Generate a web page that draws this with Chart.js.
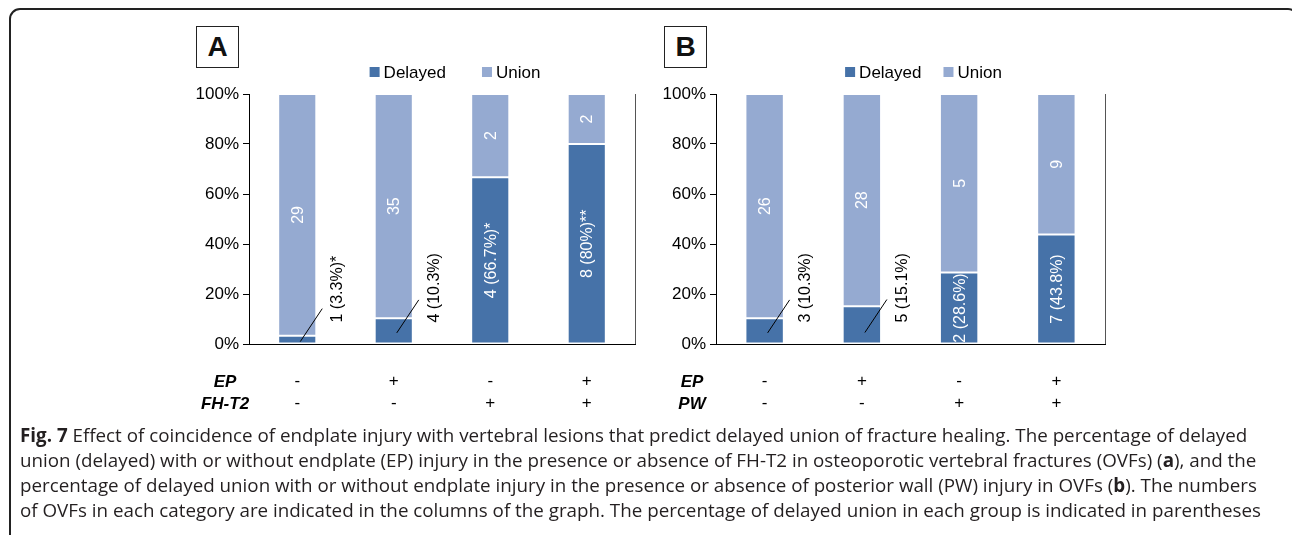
<!DOCTYPE html>
<html>
<head>
<meta charset="utf-8">
<script src="https://cdn.jsdelivr.net/npm/chart.js@4.4.1/dist/chart.umd.min.js"></script>
<style>
body{margin:0;background:#fff;width:1292px;height:535px;overflow:hidden;position:relative;font-family:"Liberation Sans",Arial,sans-serif}
#frame{position:absolute;left:9px;top:8px;width:1290px;height:600px;border:2px solid #222;border-radius:11px;box-sizing:border-box}
.panel{position:absolute;top:26px;width:43px;height:42px;border:1.5px solid #222;box-sizing:border-box;font-weight:bold;font-size:28px;line-height:40px;text-align:center;color:#111}
canvas{position:absolute}
#caption{position:absolute;left:20px;top:423px;width:1262px;font-family:"Open Sans",sans-serif;font-size:18.8px;line-height:25px;color:#231f20;white-space:nowrap}
</style>
</head>
<body>
<div id="frame"></div>
<div class="panel" style="left:196px">A</div>
<div class="panel" style="left:664px">B</div>
<canvas id="chartA" width="500" height="390" style="left:150px;top:40px"></canvas>
<canvas id="chartB" width="470" height="390" style="left:650px;top:40px"></canvas>
<div id="caption"><b>Fig. 7</b> Effect of coincidence of endplate injury with vertebral lesions that predict delayed union of fracture healing. The percentage of delayed<br>union (delayed) with or without endplate (EP) injury in the presence or absence of FH-T2 in osteoporotic vertebral fractures (OVFs) (<b>a</b>), and the<br>percentage of delayed union with or without endplate injury in the presence or absence of posterior wall (PW) injury in OVFs (<b>b</b>). The numbers<br>of OVFs in each category are indicated in the columns of the graph. The percentage of delayed union in each group is indicated in parentheses</div>
<script>
// panel A : endplate injury x FH-T2
var epA = ['-','+','-','+'];
var fhA = ['-','-','+','+'];
var delayedA_n = [1,4,4,8];
var unionA_n = [29,35,2,2];
var delayedA_pct = [3.3,10.3,66.7,80];
var unionA_pct = [96.7,89.7,33.3,20];
var starsA = ['*','','*','**'];

// panel B : endplate injury x posterior wall
var epB = ['-','+','-','+'];
var pwB = ['-','-','+','+'];
var delayedB_n = [3,5,2,7];
var unionB_n = [26,28,5,9];
var delayedB_pct = [10.3,15.1,28.6,43.8];
var unionB_pct = [89.7,84.9,71.4,56.2];
var starsB = ['','','',''];

var colDelayed = '#4672a8';
var colUnion = '#95aad1';
var FONT = '"Liberation Sans", Arial, sans-serif';

const barLabels = {
  id: 'barLabels',
  afterDatasetsDraw(chart) {
    const c = chart.ctx;
    chart.data.datasets.forEach(function(ds, di) {
      chart.getDatasetMeta(di).data.forEach(function(bar, i) {
        var txt = ds.valueLabels[i];
        var top = Math.min(bar.y, bar.base), bot = Math.max(bar.y, bar.base);
        var mid = (top + bot) / 2;
        c.save();
        c.font = '16px ' + FONT;
        c.textBaseline = 'middle';
        if (bot - top > 40) {
          c.translate(bar.x, mid);
          c.rotate(-Math.PI / 2);
          c.fillStyle = '#fff';
          c.textAlign = 'center';
          c.fillText(txt, 0, 1);
        } else {
          // small segment: label outside with a leader line
          var y0 = Math.max(bar.base - 11, mid + 2);
          c.strokeStyle = '#000';
          c.lineWidth = 1;
          c.beginPath();
          c.moveTo(bar.x + 3, y0);
          c.lineTo(bar.x + 25, y0 - 33);
          c.stroke();
          c.translate(bar.x + 39.5, bar.base - 21);
          c.rotate(-Math.PI / 2);
          c.fillStyle = '#000';
          c.textAlign = 'left';
          c.fillText(txt, 0, 1);
        }
        c.restore();
      });
    });
  }
};

const extras = {
  id: 'extras',
  afterDraw(chart, args, o) {
    const c = chart.ctx, a = chart.chartArea;
    c.save();
    // right border of plot area
    c.strokeStyle = '#555';
    c.lineWidth = 1;
    c.beginPath();
    c.moveTo(Math.round(a.right) + 0.5, a.top);
    c.lineTo(Math.round(a.right) + 0.5, a.bottom);
    c.stroke();
    // legend
    c.font = '17px ' + FONT;
    c.textBaseline = 'middle';
    var items = chart.data.datasets.map(function(d) {
      return {t: d.label, col: d.backgroundColor, w: c.measureText(d.label).width};
    });
    var total = items.reduce(function(s, it) { return s + 14 + it.w; }, 0) + o.gap * (items.length - 1);
    var x = (a.left + a.right) / 2 + 13 - total / 2;
    var y = a.top - 22;
    items.forEach(function(it) {
      c.fillStyle = it.col;
      c.fillRect(x, y - 5, 10, 10);
      c.fillStyle = '#000';
      c.fillText(it.t, x + 14, y + 1);
      x += 14 + it.w + o.gap;
    });
    // row names under the axis
    c.font = 'italic bold 17px ' + FONT;
    c.textAlign = 'center';
    o.rows.forEach(function(r, k) {
      c.fillText(r, a.left - 24, a.bottom + 38 + k * 22);
    });
    c.restore();
  }
};

function makeChart(id, yWidth, row1, row2, rowNames, dN, uN, dPct, uPct, stars, gap) {
  var dLabels = dN.map(function(n, i) { return n + ' (' + dPct[i] + '%)' + stars[i]; });
  var uLabels = uN.map(function(n) { return String(n); });
  return new Chart(id, {
    type: 'bar',
    data: {
      labels: row1.map(function(s, i) { return [s, row2[i]]; }),
      datasets: [
        {label: 'Delayed', data: dPct, valueLabels: dLabels, backgroundColor: colDelayed,
         borderColor: 'rgba(255,255,255,0.55)', borderWidth: 1, borderSkipped: false},
        {label: 'Union', data: uPct, valueLabels: uLabels, backgroundColor: colUnion,
         borderColor: 'rgba(255,255,255,0.55)', borderWidth: 1, borderSkipped: false}
      ]
    },
    options: {
      responsive: false,
      animation: false,
      devicePixelRatio: 1,
      layout: {padding: {top: 54, right: 15, left: 0, bottom: 0}},
      datasets: {bar: {categoryPercentage: 1, barPercentage: 0.395}},
      plugins: {
        legend: {display: false},
        tooltip: {enabled: false},
        extras: {gap: gap, rows: rowNames}
      },
      scales: {
        x: {
          stacked: true,
          grid: {display: false, drawTicks: false},
          border: {display: true, color: '#000', width: 1},
          ticks: {color: '#000', padding: 26, font: {family: FONT, size: 17, lineHeight: '22px'}},
          afterFit: function(s) { s.height = 86; }
        },
        y: {
          stacked: true,
          min: 0, max: 100,
          grid: {display: true, drawOnChartArea: false, drawTicks: true, tickLength: 6, color: '#000'},
          border: {display: true, color: '#000', width: 1},
          ticks: {stepSize: 20, color: '#000', padding: 4, font: {family: FONT, size: 17},
                  callback: function(v) { return v + '%'; }},
          afterFit: function(s) { s.width = yWidth; }
        }
      }
    },
    plugins: [barLabels, extras]
  });
}

makeChart('chartA', 99, epA, fhA, ['EP', 'FH-T2'], delayedA_n, unionA_n, delayedA_pct, unionA_pct, starsA, 36);
makeChart('chartB', 66, epB, pwB, ['EP', 'PW'], delayedB_n, unionB_n, delayedB_pct, unionB_pct, starsB, 22);
</script>
</body>
</html>
